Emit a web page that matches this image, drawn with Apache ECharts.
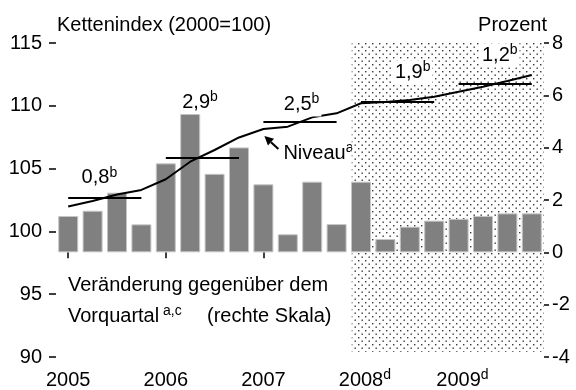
<!DOCTYPE html>
<html>
<head>
<meta charset="utf-8">
<script src="https://cdn.jsdelivr.net/npm/echarts@6/dist/echarts.min.js"></script>
<style>
  html, body { margin: 0; padding: 0; background: #fff; }
  #chart { width: 576px; height: 390px; }
</style>
</head>
<body>
<div id="chart"></div>
<script>
// Quarterly categories
const quarters = [
  '2005 Q1', '2005 Q2', '2005 Q3', '2005 Q4',
  '2006 Q1', '2006 Q2', '2006 Q3', '2006 Q4',
  '2007 Q1', '2007 Q2', '2007 Q3', '2007 Q4',
  '2008 Q1', '2008 Q2', '2008 Q3', '2008 Q4',
  '2009 Q1', '2009 Q2', '2009 Q3', '2009 Q4'
];
// Year tick labels and their footnote marks
const years = ['2005', '2006', '2007', '2008', '2009'];
const yearNotes = ['', '', '', 'd', 'd'];

// Change on previous quarter, percent (right scale)
const changeQoQ = [1.39, 1.59, 2.28, 1.07, 3.40, 5.40, 3.00, 4.01, 2.60, 0.69,
                   2.70, 1.08, 2.70, 0.51, 0.98, 1.21, 1.28, 1.39, 1.49, 1.49];
// Chain index level, 2000 = 100 (left scale)
const levelIndex = [101.98, 102.42, 102.94, 103.30, 104.15, 105.55, 106.48, 107.48,
                    108.15, 108.34, 109.08, 109.40, 110.20, 110.30, 110.46, 110.72,
                    111.12, 111.52, 111.97, 112.45];
// Annual average level and annual growth rate
const annualAvg = [102.68, 105.88, 108.71, 110.34, 111.79];
const annualGrowth = ['0,8', '2,9', '2,5', '1,9', '1,2'];

// Forecast period (shaded) and its vertical extent on the right scale
const forecastFrom = '2008 Q1';
const forecastTo = '2009 Q4';
const forecastTop = 8;
const forecastBottom = -3.8;

// Axis ticks
const leftTicks = { min: 90, max: 115, step: 5 };
const rightTicks = { min: -4, max: 8, step: 2 };

// Pixel offsets of the growth labels from the midpoint of each annual line
const growthLabelShift = [[-13, -20], [-10, -55], [-6, -17.5], [7.5, -29], [-3, -28]];

const FONT = '"Liberation Sans", Arial, Helvetica, sans-serif';
const supStyle = { fontFamily: FONT, fontSize: 14, color: '#000', lineHeight: 18, verticalAlign: 'top' };
const mainStyle = { fontFamily: FONT, fontSize: 20, color: '#000', lineHeight: 24 };
// invisible counterweight so a year with a footnote stays centred on its tick
const spacerStyle = Object.assign({}, supStyle, { color: 'transparent' });

function dotPattern() {
  const c = document.createElement('canvas');
  c.width = 7; c.height = 7;
  const g = c.getContext('2d');
  g.fillStyle = '#ffffff';
  g.fillRect(0, 0, 7, 7);
  g.fillStyle = '#383838';
  g.fillRect(1, 1, 1.4, 1.4);
  g.fillRect(4.5, 4.5, 1.4, 1.4);
  return c;
}
const hatch = dotPattern();

const chart = echarts.init(document.getElementById('chart'), null, { renderer: 'canvas' });

const option = {
  animation: false,
  backgroundColor: '#fff',
  textStyle: { fontFamily: FONT, color: '#000' },
  grid: { left: 56, right: 32, top: 43, bottom: 33, containLabel: false },
  xAxis: {
    type: 'category',
    data: quarters,
    boundaryGap: true,
    axisLine: { show: false },
    axisTick: { show: true, alignWithLabel: true, interval: 3, length: 6,
                lineStyle: { color: '#000', width: 1.5 } },
    axisLabel: {
      interval: 3, margin: 11, color: '#000', fontFamily: FONT, fontSize: 20,
      formatter: function (v, i) {
        const y = Math.floor(i / 4);
        const note = yearNotes[y];
        return note
          ? '{sp|' + note + '}{m|' + years[y] + '}{s|' + note + '}'
          : '{m|' + years[y] + '}';
      },
      rich: { m: mainStyle, s: supStyle, sp: spacerStyle }
    },
    splitLine: { show: false }
  },
  yAxis: [
    {
      type: 'value', position: 'left',
      min: leftTicks.min, max: leftTicks.max, interval: leftTicks.step,
      axisLine: { show: false },
      axisTick: { show: true, length: 7, lineStyle: { color: '#000', width: 1.5 } },
      axisLabel: { color: '#000', fontFamily: FONT, fontSize: 20, margin: 14 },
      splitLine: { show: false }
    },
    {
      type: 'value', position: 'right',
      min: rightTicks.min, max: rightTicks.max, interval: rightTicks.step,
      axisLine: { show: false },
      axisTick: { show: true, length: 5, lineStyle: { color: '#000', width: 1.5 } },
      axisLabel: { color: '#000', fontFamily: FONT, fontSize: 20, margin: 8 },
      splitLine: { show: false }
    }
  ],
  series: [
    {
      // dotted background of the forecast period
      name: 'Prognose',
      type: 'custom',
      yAxisIndex: 1,
      silent: true,
      clip: false,
      z: 1,
      encode: { x: [0, 1] },
      data: [[quarters.indexOf(forecastFrom), quarters.indexOf(forecastTo)]],
      renderItem: function (params, api) {
        const band = api.size([1, 0])[0];
        const p0 = api.coord([api.value(0), forecastTop]);
        const p1 = api.coord([api.value(1), forecastBottom]);
        const x0 = p0[0] - band * 0.38;
        const x1 = p1[0] + band * 0.5;
        return {
          type: 'rect',
          shape: { x: x0, y: p0[1], width: x1 - x0, height: p1[1] - p0[1] },
          style: { fill: { image: hatch, repeat: 'repeat' } }
        };
      }
    },
    {
      name: 'Veränderung gegenüber dem Vorquartal',
      type: 'bar',
      yAxisIndex: 1,
      data: changeQoQ,
      barCategoryGap: '18%',
      itemStyle: { color: '#808080', borderColor: '#c6c6c6', borderWidth: 1 },
      z: 2
    },
    {
      name: 'Niveau',
      type: 'line',
      yAxisIndex: 0,
      data: levelIndex,
      symbol: 'none',
      lineStyle: { color: '#000', width: 2 },
      z: 4
    },
    {
      name: 'Jahresdurchschnitt',
      type: 'line',
      yAxisIndex: 0,
      data: quarters.map(() => '-'),
      symbol: 'none',
      z: 5,
      markLine: {
        silent: true,
        symbol: ['none', 'none'],
        label: { show: false },
        lineStyle: { color: '#000', width: 2, type: 'solid' },
        data: years.map((y, i) => [
          { coord: [y + ' Q1', annualAvg[i]] },
          { coord: [y + ' Q4', annualAvg[i]] }
        ])
      },
      markPoint: {
        silent: true,
        symbol: 'rect',
        symbolSize: 1,
        itemStyle: { color: 'transparent' },
        data: years.map((y, i) => ({
          coord: [y + ' Q2', annualAvg[i]],
          label: {
            show: true,
            position: 'inside',
            offset: growthLabelShift[i],
            align: 'left',
            verticalAlign: 'middle',
            formatter: '{m|' + annualGrowth[i] + '}{s|b}',
            backgroundColor: '#fff',
            padding: [0, 2],
            rich: { m: mainStyle, s: supStyle }
          }
        }))
      }
    }
  ]
};

chart.setOption(option);

// Annotations placed from the chart's coordinate system
const grid = { left: 56, right: 576 - 32, top: 43, bottom: 390 - 33 };
const anchor = chart.convertToPixel({ seriesIndex: 2 }, ['2007 Q1', levelIndex[8]]);
const head = [anchor[0] + 1, anchor[1] + 7];
const tail = [anchor[0] + 15, anchor[1] + 20];
const dx = head[0] - tail[0], dy = head[1] - tail[1];
const len = Math.sqrt(dx * dx + dy * dy);
const ux = dx / len, uy = dy / len;
const headLen = 9, headHalf = 4.5;
const base = [head[0] - ux * headLen, head[1] - uy * headLen];

chart.setOption({
  graphic: [
    {
      type: 'text',
      style: { text: 'Kettenindex (2000=100)', x: grid.left + 1, y: 25,
               verticalAlign: 'middle', fontFamily: FONT, fontSize: 20, fill: '#000' }
    },
    {
      type: 'text',
      style: { text: 'Prozent', x: grid.right + 3, y: 25, align: 'right',
               verticalAlign: 'middle', fontFamily: FONT, fontSize: 20, fill: '#000' }
    },
    {
      type: 'line',
      shape: { x1: tail[0], y1: tail[1], x2: base[0], y2: base[1] },
      style: { stroke: '#000', lineWidth: 2 }
    },
    {
      type: 'polygon',
      shape: { points: [head,
        [base[0] - uy * headHalf, base[1] + ux * headHalf],
        [base[0] + uy * headHalf, base[1] - ux * headHalf]] },
      style: { fill: '#000' }
    },
    {
      type: 'text',
      style: { text: '{m|Niveau}{s|a}', x: anchor[0] + 20, y: anchor[1] + 24,
               verticalAlign: 'middle', rich: { m: mainStyle, s: supStyle } }
    },
    {
      type: 'text',
      style: { text: 'Veränderung gegenüber dem', x: grid.left + 12, y: 285,
               verticalAlign: 'middle', fontFamily: FONT, fontSize: 20, fill: '#000' }
    },
    {
      type: 'text',
      style: { text: '{m|Vorquartal}{s| a,c}', x: grid.left + 12, y: 316,
               verticalAlign: 'middle', rich: { m: mainStyle, s: supStyle } }
    },
    {
      type: 'text',
      style: { text: '(rechte Skala)', x: grid.left + 151, y: 316,
               verticalAlign: 'middle', fontFamily: FONT, fontSize: 20, fill: '#000' }
    }
  ]
});
</script>
</body>
</html>
